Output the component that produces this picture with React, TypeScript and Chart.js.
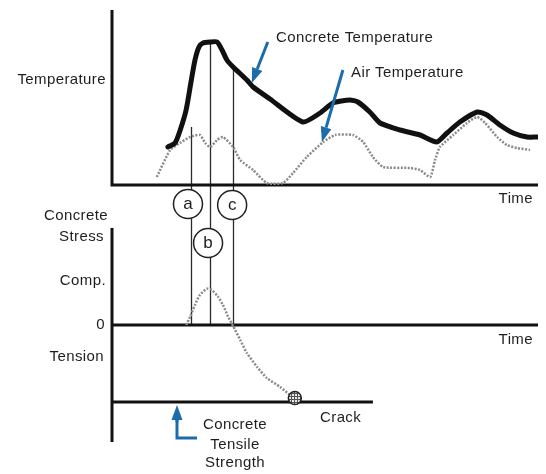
import React, { useEffect, useRef } from 'react';
import { Chart, registerables } from 'chart.js';

Chart.register(...registerables);

// Time in hours, temperature in °C, stress in MPa (schematic values)
const concreteTime = [12.6, 14.2, 15.3, 16.7, 17.8, 18.7, 19.6, 20.5, 22.1, 23.7, 24.8, 25.9, 27.3, 30.4, 31.8, 35.6, 43.0, 46.9, 49.8, 53.6, 55.4, 58.1, 60.4, 64.9, 69.4, 73.2, 75.5, 78.4, 82.3, 84.5, 87.4, 90.4, 93.5, 95.8];
const concreteTemp = [15.2, 16.8, 21.6, 30, 41.2, 50, 55.2, 56.8, 57.2, 57.2, 54, 50, 47.2, 42, 39.2, 34.4, 25.2, 28.8, 32.8, 34, 33.2, 29.2, 24.8, 22, 20, 17.2, 20.8, 25.2, 29.2, 28, 24, 20.8, 19.2, 19.2];

const airTime = [10.1, 13.1, 15.3, 17.6, 19.8, 21.0, 22.1, 23.7, 25.0, 27.3, 28.9, 31.8, 34.9, 38.5, 40.8, 43.9, 47.6, 50.3, 54.3, 56.6, 58.8, 61.1, 67.2, 69.4, 71.7, 72.8, 73.9, 76.9, 80.0, 82.3, 84.1, 86.8, 89.0, 91.3, 94.2];
const airTemp = [3.2, 14, 16.8, 19.2, 20, 16.8, 15.2, 18, 19.2, 15.2, 10, 6, 0.8, 0.8, 4.8, 11.2, 17.2, 20, 20, 17.2, 11.2, 7.2, 6.8, 6, 3.2, 10, 15.2, 20, 24.8, 27.2, 24.8, 19.2, 16, 14.8, 14];

const stressTime = [16.7, 17.6, 18.7, 19.8, 21.4, 22.5, 23.9, 25.0, 26.1, 27.3, 28.9, 30.4, 32.7, 34.9, 37.9, 40.3];
const stressValue = [0, 0.21, 0.52, 0.78, 0.94, 0.91, 0.73, 0.52, 0.23, -0.03, -0.39, -0.73, -1.09, -1.38, -1.61, -1.84];

const crackTime = [41.2];
const crackStress = [-1.9];

const tensileTime = [0, 58.8];
const tensileStrength = [-2, -2];

const markerLabels = ['a', 'b', 'c'];
const markerTimes = [17.8, 22.1, 27.3];
const markerTopTemps = [23.2, 57.2, 46.4];

const FONT = '15px "Liberation Sans", Arial, sans-serif';
const TEXT = '#1e1e1e';
const BLUE = '#1c6cab';

function pts(xs: number[], ys: number[]) {
  return xs.map((x, i) => ({ x, y: ys[i] }));
}

function drawArrow(ctx: CanvasRenderingContext2D, x1: number, y1: number, x2: number, y2: number) {
  const ang = Math.atan2(y2 - y1, x2 - x1);
  const head = 15;
  const w = 5.5;
  const bx = x2 - head * Math.cos(ang);
  const by = y2 - head * Math.sin(ang);
  ctx.strokeStyle = BLUE;
  ctx.fillStyle = BLUE;
  ctx.lineWidth = 3;
  ctx.beginPath();
  ctx.moveTo(x1, y1);
  ctx.lineTo(bx, by);
  ctx.stroke();
  ctx.beginPath();
  ctx.moveTo(x2, y2);
  ctx.lineTo(bx + w * Math.sin(ang), by - w * Math.cos(ang));
  ctx.lineTo(bx - w * Math.sin(ang), by + w * Math.cos(ang));
  ctx.closePath();
  ctx.fill();
}

function text(ctx: CanvasRenderingContext2D, s: string, x: number, y: number, align: CanvasTextAlign) {
  ctx.textAlign = align;
  ctx.fillText(s, x, y);
}

const overlay = {
  id: 'overlay',
  beforeDatasetsDraw(chart: any) {
    const { ctx, chartArea, scales } = chart;
    const x = scales.x, yT = scales.yT, yB = scales.yB;
    const base0 = yT.getPixelForValue(0);
    const zero = yB.getPixelForValue(0);
    ctx.save();
    ctx.strokeStyle = '#2a2a2a';
    ctx.lineWidth = 1.3;
    markerTimes.forEach((t, i) => {
      const px = Math.round(x.getPixelForValue(t)) + 0.5;
      ctx.beginPath();
      ctx.moveTo(px, yT.getPixelForValue(markerTopTemps[i]));
      ctx.lineTo(px, zero);
      ctx.stroke();
    });
    ctx.strokeStyle = '#111';
    ctx.lineWidth = 3;
    ctx.beginPath();
    ctx.moveTo(chartArea.left, chartArea.top);
    ctx.lineTo(chartArea.left, base0);
    ctx.lineTo(chartArea.right, base0);
    ctx.stroke();
    ctx.beginPath();
    ctx.moveTo(chartArea.left, yB.getPixelForValue(2.52));
    ctx.lineTo(chartArea.left, chartArea.bottom);
    ctx.stroke();
    ctx.beginPath();
    ctx.moveTo(chartArea.left, zero);
    ctx.lineTo(chartArea.right, zero);
    ctx.stroke();
    ctx.restore();
  },
  afterDatasetsDraw(chart: any) {
    const { ctx, chartArea, scales } = chart;
    const x = scales.x, yT = scales.yT, yB = scales.yB;
    const base0 = yT.getPixelForValue(0);
    const zero = yB.getPixelForValue(0);
    const tens = yB.getPixelForValue(-2);
    ctx.save();
    // marker circles
    const offsets = [19, 58, 20];
    markerTimes.forEach((t, i) => {
      const cx = x.getPixelForValue(t) - (i === 0 ? 3 : i === 1 ? 2 : 1);
      const cy = base0 + offsets[i];
      ctx.beginPath();
      ctx.arc(cx, cy, 14.5, 0, Math.PI * 2);
      ctx.fillStyle = '#fff';
      ctx.fill();
      ctx.strokeStyle = '#222';
      ctx.lineWidth = 1.5;
      ctx.stroke();
      ctx.fillStyle = TEXT;
      ctx.font = '17px "Liberation Sans", Arial, sans-serif';
      ctx.textBaseline = 'middle';
      text(ctx, markerLabels[i], cx, cy, 'center');
    });
    // labels
    ctx.font = FONT;
    ctx.fillStyle = TEXT;
    ctx.textBaseline = 'middle';
    (ctx as any).letterSpacing = '0.4px';
    const L = chartArea.left;
    text(ctx, 'Temperature', L - 6, 80, 'right');
    text(ctx, 'Concrete Temperature', 276, 38, 'left');
    text(ctx, 'Air Temperature', 351, 73, 'left');
    text(ctx, 'Time', chartArea.right - 5, base0 + 14, 'right');
    text(ctx, 'Concrete', L - 4, 216, 'right');
    text(ctx, 'Stress', L - 8, 237, 'right');
    text(ctx, 'Comp.', L - 6, 281, 'right');
    text(ctx, '0', L - 7, zero, 'right');
    text(ctx, 'Tension', L - 8, 357, 'right');
    text(ctx, 'Time', chartArea.right - 5, zero + 15, 'right');
    text(ctx, 'Crack', 320, tens + 16, 'left');
    text(ctx, 'Concrete', 235, tens + 23, 'center');
    text(ctx, 'Tensile', 235, tens + 43, 'center');
    text(ctx, 'Strength', 235, tens + 61, 'center');
    // blue arrows
    const cTip = { x: x.getPixelForValue(31.5), y: yT.getPixelForValue(40.8) };
    drawArrow(ctx, cTip.x + 16, cTip.y - 41, cTip.x, cTip.y);
    const aTip = { x: x.getPixelForValue(47.3), y: yT.getPixelForValue(17.2) };
    drawArrow(ctx, aTip.x + 21, aTip.y - 72, aTip.x, aTip.y);
    const sx = 177;
    ctx.strokeStyle = BLUE;
    ctx.lineWidth = 3;
    ctx.beginPath();
    ctx.moveTo(sx + 20, tens + 36);
    ctx.lineTo(sx, tens + 36);
    ctx.lineTo(sx, tens + 18);
    ctx.stroke();
    drawArrow(ctx, sx, tens + 20, sx, tens + 3);
    ctx.restore();
  },
};

function hatchPattern(): CanvasPattern | string {
  const c = document.createElement('canvas');
  c.width = 3;
  c.height = 3;
  const g = c.getContext('2d');
  if (!g) return '#bbb';
  g.fillStyle = '#e8e8e8';
  g.fillRect(0, 0, 3, 3);
  g.fillStyle = '#555';
  g.fillRect(0, 0, 3, 1);
  g.fillRect(0, 0, 1, 3);
  const p = g.createPattern(c, 'repeat');
  return p || '#bbb';
}

export default function App() {
  const ref = useRef<HTMLCanvasElement>(null);
  useEffect(() => {
    if (!ref.current) return;
    const dotted = { borderColor: '#8a8a8a', borderWidth: 2.5, borderDash: [2, 1.5], pointRadius: 0, tension: 0.2 };
    const chart = new Chart(ref.current, {
      type: 'line',
      data: {
        datasets: [
          {
            label: 'Crack',
            data: pts(crackTime, crackStress),
            yAxisID: 'yB',
            showLine: false,
            pointRadius: 6.5,
            pointBackgroundColor: hatchPattern() as any,
            pointBorderColor: '#222',
            pointBorderWidth: 1.5,
          },
          {
            label: 'Concrete Temperature',
            data: pts(concreteTime, concreteTemp),
            yAxisID: 'yT',
            borderColor: '#111',
            borderWidth: 5,
            pointRadius: 0,
            tension: 0.2,
            borderJoinStyle: 'round',
            borderCapStyle: 'round',
          },
          { label: 'Air Temperature', data: pts(airTime, airTemp), yAxisID: 'yT', ...dotted },
          { label: 'Concrete Stress', data: pts(stressTime, stressValue), yAxisID: 'yB', ...dotted },
          {
            label: 'Concrete Tensile Strength',
            data: pts(tensileTime, tensileStrength),
            yAxisID: 'yB',
            borderColor: '#111',
            borderWidth: 3,
            pointRadius: 0,
          },
        ],
      },
      options: {
        responsive: false,
        animation: false,
        devicePixelRatio: 1,
        events: [],
        layout: { padding: { left: 112, right: 8, top: 10, bottom: 32 } },
        plugins: { legend: { display: false }, tooltip: { enabled: false }, title: { display: false } },
        scales: {
          x: { type: 'linear', min: 0, max: 96, display: false },
          yT: { type: 'linear', min: -102.8, max: 70, display: false },
          yB: { type: 'linear', min: -3.04, max: 8.18, display: false },
        },
      },
      plugins: [overlay],
    } as any);
    return () => chart.destroy();
  }, []);
  return (
    <div style={{ position: 'fixed', left: 0, top: 0, width: 546, height: 474, background: '#fff' }}>
      <canvas ref={ref} width={546} height={474} style={{ display: 'block' }} />
    </div>
  );
}
